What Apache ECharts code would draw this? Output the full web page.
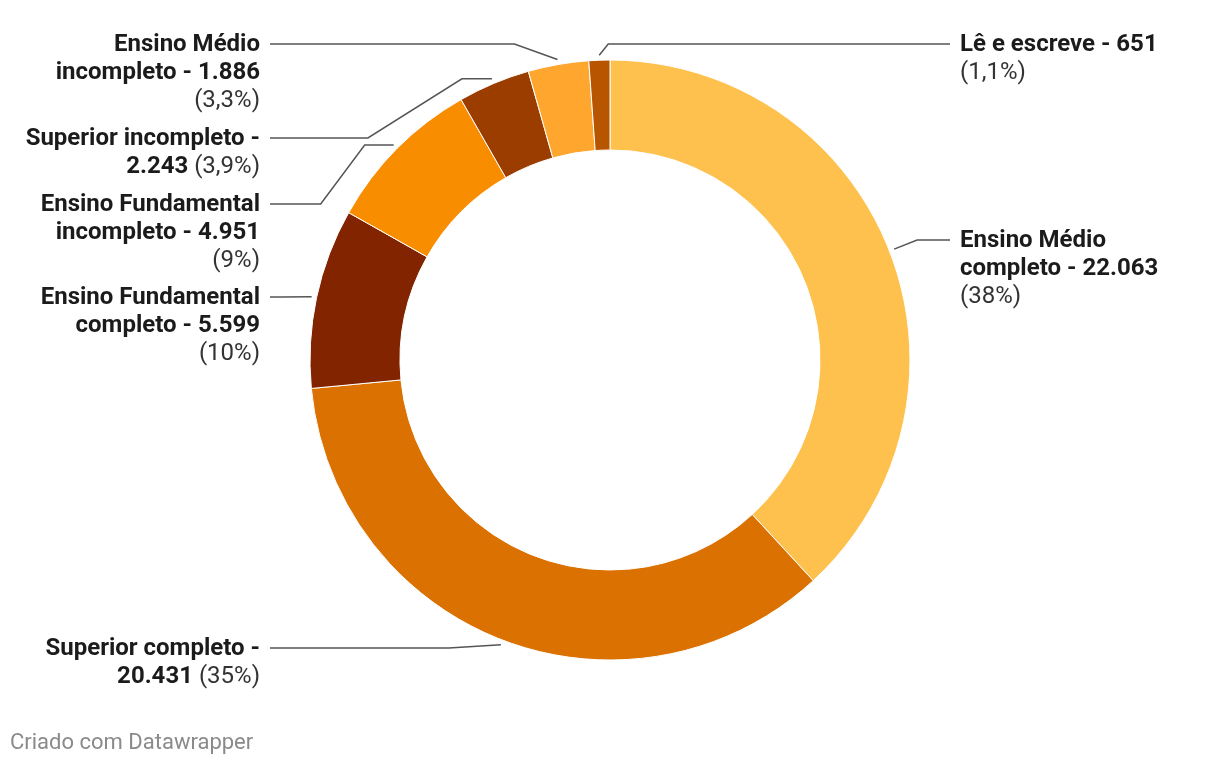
<!DOCTYPE html>
<html>
<head>
<meta charset="utf-8">
<script src="https://cdn.jsdelivr.net/npm/echarts@6/dist/echarts.min.js"></script>
<style>
html, body { margin: 0; padding: 0; background: #ffffff; }
#chart { width: 1220px; height: 766px; }
</style>
</head>
<body>
<div id="chart"></div>
<script>
// ---------- DATA ----------
const categories = [
  'Ensino Médio completo',
  'Superior completo',
  'Ensino Fundamental completo',
  'Ensino Fundamental incompleto',
  'Superior incompleto',
  'Ensino Médio incompleto',
  'Lê e escreve'
];
const values = [22063, 20431, 5599, 4951, 2243, 1886, 651];
const percentLabels = ['38%', '35%', '10%', '9%', '3,9%', '3,3%', '1,1%'];
const footerText = 'Criado com Datawrapper';

// ---------- STYLE / LAYOUT ----------
const palette = ['#ffc14d', '#db7100', '#822400', '#f98d00', '#9c3d00', '#ffa62e', '#b85500'];
const FONT = 'Roboto, "Noto Sans", sans-serif';
const FONT_SIZE = 24;
const LINE_H = 28;
const WRAP_WIDTH = 242;
const LEFT_TEXT_EDGE = 260;
const RIGHT_TEXT_EDGE = 960;
const LINE_GAP = 10;
// per-slice label placement: side, row y, initial horizontal lead, diagonal run
const labelSlots = [
  { side: 'R', row: 240, lead: 0,  diag: 23 },
  { side: 'L', row: 648, lead: 0,  diag: 52 },
  { side: 'L', row: 297, lead: 0,  diag: 30 },
  { side: 'L', row: 204, lead: 29, diag: 44 },
  { side: 'L', row: 138, lead: 30, diag: 94 },
  { side: 'L', row: 44,  lead: 0,  diag: 43 },
  { side: 'R', row: 44,  lead: 0,  diag: 9 }
];

function fmtThousands(v) {
  return String(v).replace(/\B(?=(\d{3})+(?!\d))/g, '.');
}

const measureCtx = document.createElement('canvas').getContext('2d');
function textW(str, bold) {
  measureCtx.font = (bold ? 'bold ' : '') + FONT_SIZE + 'px ' + FONT;
  return measureCtx.measureText(str).width;
}

// Build wrapped rich text: bold "name - value", regular "(pct)"
function buildLabel(i) {
  const words = [];
  (categories[i] + ' - ' + fmtThousands(values[i])).split(' ').forEach(w => words.push({ t: w, b: true }));
  words.push({ t: '(' + percentLabels[i] + ')', b: false });
  const lines = [];
  let cur = [];
  let curW = 0;
  words.forEach(w => {
    const ww = textW(w.t, w.b);
    const sp = cur.length ? textW(' ', true) : 0;
    if (cur.length && curW + sp + ww > WRAP_WIDTH) {
      lines.push(cur); cur = []; curW = 0;
      cur.push(w); curW = ww;
    } else {
      cur.push(w); curW += sp + ww;
    }
  });
  if (cur.length) lines.push(cur);
  return lines.map(line => {
    let out = '';
    let seg = '';
    let segBold = null;
    line.forEach((w, k) => {
      const txt = (k > 0 ? ' ' : '') + w.t;
      if (segBold === null || segBold === w.b) {
        seg += txt; segBold = w.b;
      } else {
        out += '{' + (segBold ? 'b' : 'r') + '|' + seg + '}';
        seg = txt; segBold = w.b;
      }
    });
    out += '{' + (segBold ? 'b' : 'r') + '|' + seg + '}';
    return out;
  }).join('\n');
}

function richFor(align) {
  return {
    b: { fontFamily: FONT, fontWeight: 'bold', fontSize: FONT_SIZE, lineHeight: LINE_H, color: '#1b1b1b', align: align },
    r: { fontFamily: FONT, fontWeight: 'normal', fontSize: FONT_SIZE, lineHeight: LINE_H, color: '#333333', align: align }
  };
}

const pieData = categories.map((name, i) => {
  const align = labelSlots[i].side === 'L' ? 'right' : 'left';
  return {
    name: name,
    value: values[i],
    itemStyle: { color: palette[i] },
    label: { formatter: buildLabel(i), rich: richFor(align), align: align }
  };
});

const chart = echarts.init(document.getElementById('chart'), null, { renderer: 'canvas' });

chart.setOption({
  backgroundColor: '#ffffff',
  animation: false,
  title: {
    text: footerText,
    left: 5,
    top: 727,
    textStyle: { fontFamily: FONT, fontSize: 22, fontWeight: 'normal', color: '#8a8a8a' }
  },
  series: [{
    type: 'pie',
    center: [610, 360],
    radius: [210, 300],
    startAngle: 90,
    clockwise: true,
    avoidLabelOverlap: false,
    silent: true,
    itemStyle: { borderColor: '#ffffff', borderWidth: 1 },
    label: {
      show: true,
      position: 'outside',
      overflow: 'none'
    },
    labelLine: {
      show: true,
      length: 10,
      length2: 10,
      lineStyle: { color: '#555555', width: 1.5 }
    },
    emphasis: { disabled: true },
    labelLayout: function (params) {
      const i = params.dataIndex;
      const slot = labelSlots[i];
      const pts = params.labelLinePoints;
      const p0 = pts[0], p1 = pts[1];
      const dx = p1[0] - p0[0], dy = p1[1] - p0[1];
      const len = Math.sqrt(dx * dx + dy * dy) || 1;
      const s = [p0[0] + dx / len * 5, p0[1] + dy / len * 5];
      const dir = slot.side === 'L' ? -1 : 1;
      const linePts = [s];
      let cx = s[0];
      if (slot.lead > 0) {
        cx = s[0] + dir * slot.lead;
        linePts.push([cx, s[1]]);
      }
      const ex = cx + dir * slot.diag;
      linePts.push([ex, slot.row]);
      const tx = slot.side === 'L' ? LEFT_TEXT_EDGE + LINE_GAP : RIGHT_TEXT_EDGE - LINE_GAP;
      linePts.push([tx, slot.row]);
      return {
        x: slot.side === 'L' ? LEFT_TEXT_EDGE : RIGHT_TEXT_EDGE,
        y: slot.row - LINE_H / 2 + 1,
        align: slot.side === 'L' ? 'right' : 'left',
        verticalAlign: 'top',
        labelLinePoints: linePts
      };
    },
    data: pieData
  }]
});
</script>
</body>
</html>
